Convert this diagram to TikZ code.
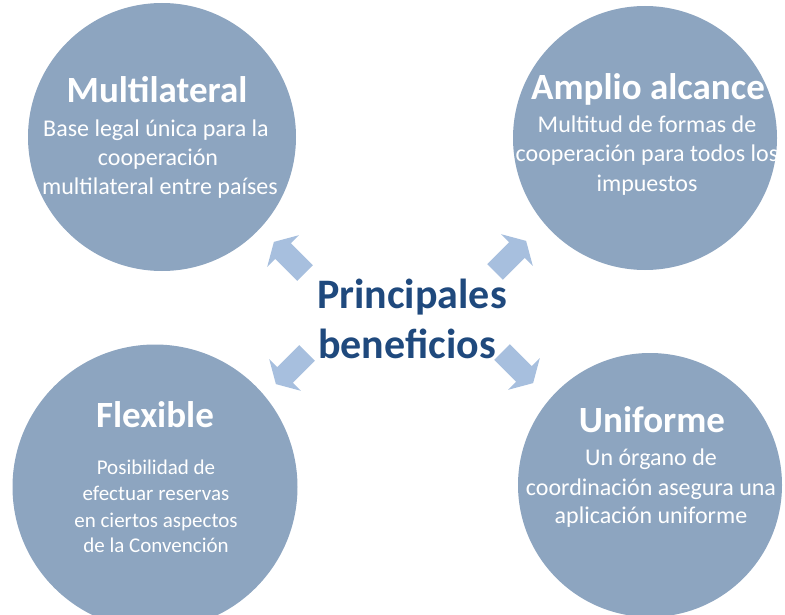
\documentclass[tikz,border=0pt]{standalone}
\usepackage{fontspec}
\setmainfont{Carlito}
\definecolor{bubblefill}{RGB}{141,165,192}
\definecolor{arrowfill}{RGB}{167,191,222}
\definecolor{centreblue}{RGB}{31,73,125}
\tikzset{
  bubble/.style={circle, fill=bubblefill, inner sep=0pt},
  headline/.style={anchor=base, text=white, inner sep=0pt, font=\fontsize{37}{42}\selectfont\bfseries},
  bodyline/.style={anchor=base, text=white, inner sep=0pt, font=\fontsize{24}{28}\selectfont},
  centreline/.style={anchor=base, text=centreblue, inner sep=0pt, font=\fontsize{42}{50}\selectfont\bfseries},
  blockarrow/.style={fill=arrowfill}
}
\begin{document}
\begin{tikzpicture}[x=1pt,y=-1pt]
    \useasboundingbox (0,0) rectangle (785,615);

    % circles
    \node[bubble, minimum size=268pt] (multi) at (162,137) {};
    \node[bubble, minimum size=264pt] (amplio) at (645,138) {};
    \node[bubble, minimum size=285pt] (flex) at (155,487) {};
    \node[bubble, minimum size=264pt] (unif) at (650,485) {};

    % arrows
    \foreach \x/\y/\a in {305/273/135, 495/272/45, 307/353/225, 502/352/315}
      \fill[blockarrow, shift={(\x,\y)}, rotate=\a]
        (0,-11) -- (31,-11) -- (31,-22.5) -- (44,0) -- (31,22.5) -- (31,11) -- (0,11) -- cycle;

    % centre
    \node[centreline] (cen1) at (412,308) {Principales};
    \node[centreline] (cen2) at (407,358) {beneficios};

    % top left
    \node[headline] (multiT) at (157,103) {Multilateral};
    \node[bodyline] (multi1) at (156,137) {Base legal única para la};
    \node[bodyline] (multi2) at (158,166) {cooperación};
    \node[bodyline] (multi3) at (160,194) {multilateral entre países};

    % top right
    \node[headline] (amplioT) at (648,100) {Amplio alcance};
    \node[bodyline] (amplio1) at (647,133) {Multitud de formas de};
    \node[bodyline] (amplio2) at (647,162) {cooperación para todos los};
    \node[bodyline] (amplio3) at (647,192) {impuestos};

    % bottom left
    \node[headline] (flexT) at (155,427) {Flexible};
    \node[bodyline, font=\fontsize{21}{26}\selectfont] (flex1) at (156,474) {Posibilidad de};
    \node[bodyline, font=\fontsize{21}{26}\selectfont] (flex2) at (156,500) {efectuar reservas};
    \node[bodyline, font=\fontsize{21}{26}\selectfont] (flex3) at (156,527) {en ciertos aspectos};
    \node[bodyline, font=\fontsize{21}{26}\selectfont] (flex4) at (156,552) {de la Convención};

    % bottom right
    \node[headline] (unifT) at (652,432) {Uniforme};
    \node[bodyline] (unif1) at (651,465) {Un órgano de};
    \node[bodyline] (unif2) at (651,495) {coordinación asegura una};
    \node[bodyline] (unif3) at (651,523) {aplicación uniforme};

\end{tikzpicture}
\end{document}
